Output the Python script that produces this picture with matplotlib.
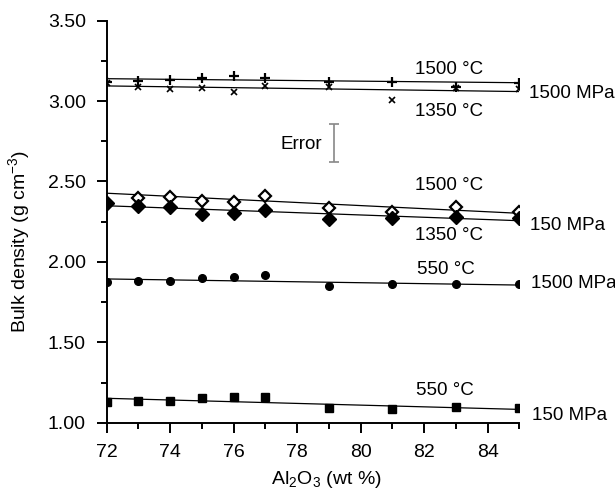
import numpy as np
import matplotlib
matplotlib.use('Agg')
import matplotlib.pyplot as plt
from matplotlib.ticker import MultipleLocator, FormatStrFormatter

plt.rcParams['font.family'] = ['Liberation Sans', 'DejaVu Sans']
plt.rcParams['mathtext.fontset'] = 'custom'
plt.rcParams['mathtext.rm'] = 'Liberation Sans'

# Al2O3 content (wt %)
al2o3 = [72, 73, 74, 75, 76, 77, 79, 81, 83, 85]

# bulk density (g cm-3)
d_1500c_1500mpa = [3.12, 3.127, 3.131, 3.145, 3.156, 3.145, 3.121, 3.121, 3.09, 3.11]
d_1350c_1500mpa = [3.11, 3.086, 3.073, 3.080, 3.059, 3.096, 3.09, 3.007, 3.083, 3.073]
d_1500c_150mpa = [2.36, 2.396, 2.405, 2.379, 2.371, 2.412, 2.337, 2.308, 2.34, 2.308]
d_1350c_150mpa = [2.364, 2.348, 2.343, 2.296, 2.302, 2.323, 2.265, 2.271, 2.277, 2.271]
d_550c_1500mpa = [1.873, 1.883, 1.881, 1.898, 1.908, 1.918, 1.852, 1.861, 1.861, 1.861]
d_550c_150mpa = [1.131, 1.135, 1.135, 1.152, 1.158, 1.158, 1.090, 1.085, 1.100, 1.090]

# fitted lines as drawn: value at 72 and at 85
fit_x = [72, 85]
fit_1500c_1500mpa = [3.139, 3.114]
fit_1350c_1500mpa = [3.094, 3.059]
fit_1500c_150mpa = [2.427, 2.302]
fit_1350c_150mpa = [2.349, 2.256]
fit_550c_1500mpa = [1.894, 1.856]
fit_550c_150mpa = [1.152, 1.083]

# typical error
err_x = 79.16
err_center = 2.74
err_half = 0.117

fig = plt.figure(figsize=(6.15, 4.91), dpi=100)
ax = fig.add_axes([0.1735, 0.139, 0.6712, 0.819])

for fit in [fit_1500c_1500mpa, fit_1350c_1500mpa, fit_1500c_150mpa,
            fit_1350c_150mpa, fit_550c_1500mpa, fit_550c_150mpa]:
    ax.plot(fit_x, fit, color='black', linewidth=0.9, zorder=2)

ax.plot(al2o3, d_1500c_1500mpa, '+', color='black', markersize=7, mew=1.6, zorder=3)
ax.plot(al2o3, d_1350c_1500mpa, 'x', color='black', markersize=4.5, mew=1.2, zorder=3)
ax.plot(al2o3, d_1500c_150mpa, 'D', mfc='white', mec='black', markersize=6.5, mew=1.6, zorder=3)
ax.plot(al2o3, d_1350c_150mpa, 'D', color='black', markersize=7, zorder=4)
ax.plot(al2o3, d_550c_1500mpa, 'o', color='black', markersize=5.5, zorder=3)
ax.plot(al2o3, d_550c_150mpa, 's', color='black', markersize=6, zorder=3)

ax.errorbar([err_x], [err_center], yerr=[err_half], fmt='none',
            ecolor='#888888', elinewidth=1.2, capsize=3.6, capthick=1.2)
ax.text(78.77, 2.731, 'Error', ha='right', va='center', fontsize=13.5)

fs = 13.5
ax.text(82.79, 3.198, '1500 °C', ha='center', va='center', fontsize=fs)
ax.text(82.79, 2.934, '1350 °C', ha='center', va='center', fontsize=fs)
ax.text(85.30, 3.049, '1500 MPa', ha='left', va='center', fontsize=fs)
ax.text(82.79, 2.478, '1500 °C', ha='center', va='center', fontsize=fs)
ax.text(85.34, 2.229, '150 MPa', ha='left', va='center', fontsize=fs)
ax.text(82.79, 2.167, '1350 °C', ha='center', va='center', fontsize=fs)
ax.text(82.68, 1.950, '550 °C', ha='center', va='center', fontsize=fs)
ax.text(85.36, 1.863, '1500 MPa', ha='left', va='center', fontsize=fs)
ax.text(82.66, 1.203, '550 °C', ha='center', va='center', fontsize=fs)
ax.text(85.39, 1.042, '150 MPa', ha='left', va='center', fontsize=fs)

ax.set_xlim(72, 85)
ax.set_ylim(1.0, 3.5)
ax.xaxis.set_minor_locator(MultipleLocator(1))
ax.yaxis.set_major_locator(MultipleLocator(0.5))
ax.yaxis.set_minor_locator(MultipleLocator(0.25))
ax.yaxis.set_major_formatter(FormatStrFormatter('%.2f'))
ax.set_xticks([72, 74, 76, 78, 80, 82, 84])

for s in ['top', 'right']:
    ax.spines[s].set_visible(False)
for s in ['left', 'bottom']:
    ax.spines[s].set_linewidth(1.4)
ax.tick_params(which='major', length=7, width=1.4, labelsize=14, pad=8)
ax.tick_params(which='minor', length=4, width=1.4)

ax.set_xlabel('Al$_2$O$_3$ (wt %)', fontsize=14, va='center')
ax.set_ylabel('Bulk density (g cm$^{-3}$)', fontsize=14, va='center')
ax.xaxis.set_label_coords(0.531, -0.14)
ax.yaxis.set_label_coords(-0.21, 0.45)

fig.savefig('out.png', dpi=100)
